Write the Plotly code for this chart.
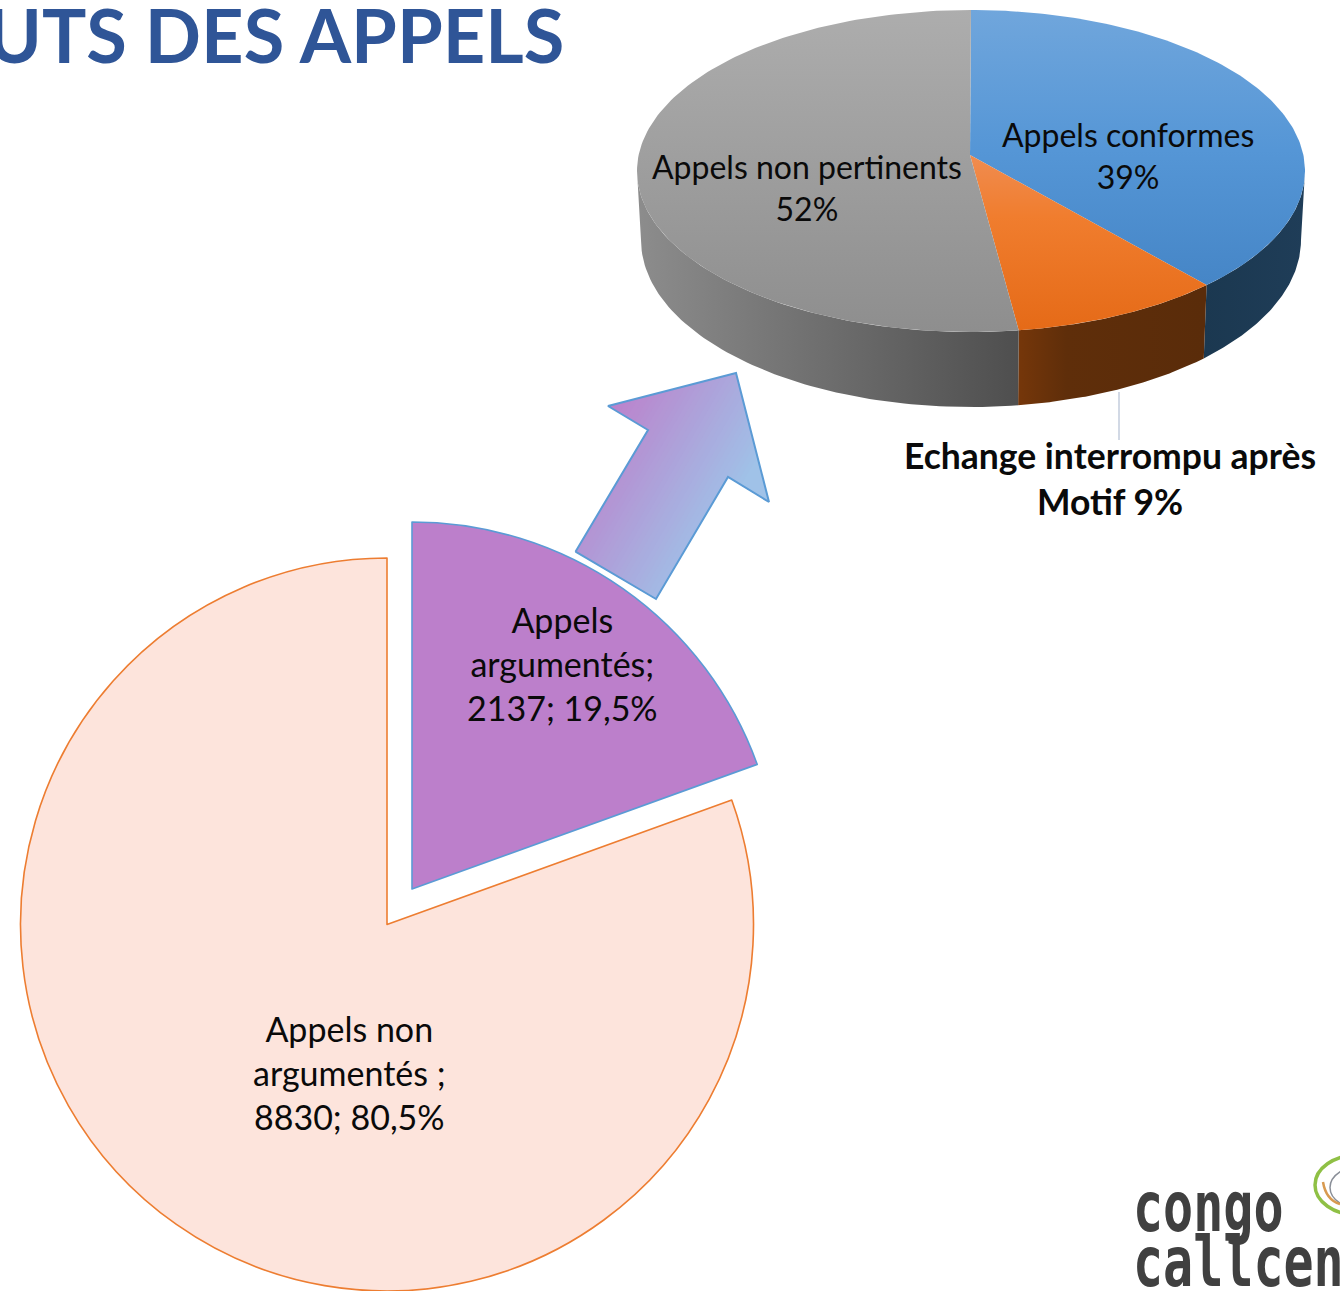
import numpy as np
import plotly.graph_objects as go

# --- Data -----------------------------------------------------------------
main_labels = ["Appels argumentés", "Appels non argumentés"]
main_values = [2137, 8830]
detail_labels = ["Appels conformes", "Echange interrompu après Motif", "Appels non pertinents"]
detail_values = [39, 9, 52]

W, H = 1340, 1291
PURPLE, SALMON, ORANGE_LINE, BLUE_LINE = "#BC7FCB", "#FDE4DC", "#ED7D31", "#5B9BD5"


def domain(x0, x1, y0, y1):
    return dict(x=[x0 / W, x1 / W], y=[(H - y1) / H, (H - y0) / H])


fig = go.Figure()

# --- Tilted disc (top ellipse + wall) driven by detail_values ---------------
CX, CY, RX, RY = 971.0, 171.0, 334.0, 161.0     # top face
BCX, BCY, BRX, BRY = 971.0, 240.0, 330.0, 167.0  # bottom rim
AX, AY, K = 970.0, 155.0, 0.455                  # apex seen in perspective


def edge_theta(share_angle):
    dx, dy = np.sin(share_angle), -np.cos(share_angle) * K
    ox, oy = (AX - CX) / RX, (AY - CY) / RY
    ux, uy = dx / RX, dy / RY
    a, b, c = ux**2 + uy**2, 2 * (ox * ux + oy * uy), ox**2 + oy**2 - 1
    t = (-b + np.sqrt(b**2 - 4 * a * c)) / (2 * a)
    th = np.arctan2(ox + t * ux, -(oy + t * uy))
    return th % (2 * np.pi)


def top(th):
    return CX + RX * np.sin(th), CY - RY * np.cos(th)


def bot(th):
    return BCX + BRX * np.sin(th), BCY - BRY * np.cos(th)


shares = np.cumsum([0] + detail_values) / sum(detail_values) * 2 * np.pi
thetas = [0.0, edge_theta(shares[1]), edge_theta(shares[2]), 2 * np.pi]

top_fill = [
    ([[0, "#70A6DC"], [0.5, "#5596D6"], [1, "#4585C6"]], 10, 290),
    ([[0, "#F08C50"], [0.35, "#F07D2E"], [1, "#E56A17"]], 155, 332),
    ([[0, "#ADADAD"], [1, "#8E8E8E"]], 10, 332),
]
wall_fill = [
    ([[0, "#1B3850"], [1, "#1F3D58"]], 1203, 1305),
    ([[0, "#74360A"], [0.25, "#5F2E0A"], [1, "#5A2C0A"]], 1021, 1203),
    ([[0, "#8C8C8C"], [1, "#4E4E4E"]], 640, 1021),
]
wall_span = [
    (np.pi / 2, thetas[1]),
    (thetas[1], thetas[2]),
    (thetas[2], 3 * np.pi / 2),
]

for (t0, t1), (scale, s0, s1) in zip(wall_span, wall_fill):
    th = np.linspace(t0, t1, 80)
    xa, ya = top(th)
    xb, yb = bot(th[::-1])
    fig.add_trace(go.Scatter(
        x=np.r_[xa, xb, xa[0]], y=np.r_[ya, yb, ya[0]], mode="lines",
        line=dict(width=0), fill="toself", hoverinfo="skip", showlegend=False,
        fillgradient=dict(type="horizontal", start=s0, stop=s1, colorscale=scale),
    ))

for i, (scale, s0, s1) in enumerate(top_fill):
    th = np.linspace(thetas[i], thetas[i + 1], 160)
    xa, ya = top(th)
    fig.add_trace(go.Scatter(
        x=np.r_[AX, xa, AX], y=np.r_[AY, ya, AY], mode="lines",
        line=dict(width=0), fill="toself", name=detail_labels[i],
        hoverinfo="name", showlegend=False,
        fillgradient=dict(type="vertical", start=s0, stop=s1, colorscale=scale),
    ))

# --- Decorative arrow with a diagonal gradient, and leader line --------------
arrow_x = [575.5, 656, 728, 769, 736, 608, 648, 575.5]
arrow_y = [551.7, 599, 477, 502, 373, 406, 430, 551.7]


def clip_from(points, nx, ny, level):
    """Keep the part of a polygon where nx*x + ny*y >= level."""
    out = []
    for (x0, y0), (x1, y1) in zip(points, points[1:] + points[:1]):
        d0, d1 = nx * x0 + ny * y0 - level, nx * x1 + ny * y1 - level
        if d0 >= 0:
            out.append((x0, y0))
        if (d0 >= 0) != (d1 >= 0):
            t = d0 / (d0 - d1)
            out.append((x0 + t * (x1 - x0), y0 + t * (y1 - y0)))
    return out


c0, c1 = np.array([0xBC, 0x82, 0xCC]), np.array([0xA0, 0xC2, 0xE8])
bands = np.linspace(726, 880, 36)
arrow_points = list(zip(arrow_x[:-1], arrow_y[:-1]))
for j, level in enumerate(bands):
    part = clip_from(arrow_points, 0.86, 0.5, level if j else 0)
    if not part:
        continue
    col = c0 + (c1 - c0) * j / (len(bands) - 1)
    px, py = zip(*part)
    fig.add_trace(go.Scatter(
        x=list(px) + [px[0]], y=list(py) + [py[0]], mode="lines", line=dict(width=0),
        fill="toself", fillcolor="rgb(%d,%d,%d)" % tuple(col),
        hoverinfo="skip", showlegend=False,
    ))
fig.add_trace(go.Scatter(
    x=arrow_x, y=arrow_y, mode="lines", line=dict(color=BLUE_LINE, width=2),
    hoverinfo="skip", showlegend=False,
))
fig.add_trace(go.Scatter(
    x=[1119, 1119], y=[392, 440], mode="lines",
    line=dict(color="#B4C0D4", width=1.2), hoverinfo="skip", showlegend=False,
))

# --- Exploded pie: two pies share the values, each shows one slice ----------
fig.add_trace(go.Pie(
    labels=main_labels, values=main_values, sort=False, direction="clockwise",
    rotation=0, textinfo="none", showlegend=False,
    domain=domain(19, 755, 558, 1291),
    marker=dict(colors=["rgba(0,0,0,0)", SALMON],
                line=dict(color=["rgba(0,0,0,0)", ORANGE_LINE], width=[0, 1.6])),
))
fig.add_trace(go.Pie(
    labels=main_labels, values=main_values, sort=False, direction="clockwise",
    rotation=0, textinfo="none", showlegend=False,
    domain=domain(45, 779, 522, 1256),
    marker=dict(colors=[PURPLE, "rgba(0,0,0,0)"],
                line=dict(color=[BLUE_LINE, "rgba(0,0,0,0)"], width=[1.6, 0])),
))

# --- Text --------------------------------------------------------------------
BLACK = "#0A0A0A"


def label(x, y, text, size, color=BLACK, bold=False, family="Lato", xanchor="center", yanchor="middle"):
    fig.add_annotation(
        x=x, y=y, xref="x", yref="y", text=f"<b>{text}</b>" if bold else text,
        showarrow=False, xanchor=xanchor, yanchor=yanchor, align="center",
        font=dict(family=family, size=size, color=color),
    )


label(566, 34, "UTS DES APPELS", 74, color="#2F5597", bold=True, xanchor="right")
label(562, 663, "Appels<br>argumentés;<br>2137; 19,5%", 34)
label(349, 1072, "Appels non<br>argumentés ;<br>8830; 80,5%", 34)
label(1128, 155, "Appels conformes<br>39%", 32)
label(807, 187, "Appels non pertinents<br>52%", 32)
label(1110, 478, "Echange interrompu après<br>Motif 9%", 35.5, bold=True)

# --- Logo fragment ----------------------------------------------------------
LOGO_FONT = "DejaVu Sans Mono"
label(1131, 1207, "congo", 50, color="#404040", bold=True, family=LOGO_FONT, xanchor="left")
label(1131, 1262, "callcent", 50, color="#404040", bold=True, family=LOGO_FONT, xanchor="left")

fig.update_layout(
    width=W, height=H, margin=dict(l=0, r=0, t=0, b=0),
    paper_bgcolor="white", plot_bgcolor="white", showlegend=False,
    xaxis=dict(range=[0, W], visible=False, fixedrange=True),
    yaxis=dict(range=[H, 0], visible=False, fixedrange=True),
    shapes=[
        dict(type="circle", xref="x", yref="y", x0=1315, x1=1400, y0=1155, y1=1215,
             line=dict(color="#8FC045", width=3.5)),
        dict(type="circle", xref="x", yref="y", x0=1330, x1=1400, y0=1165, y1=1210,
             line=dict(color="#8A8F98", width=1.5)),
        dict(type="path", xref="x", yref="y", path="M 1323,1182 Q 1326,1200 1340,1204",
             line=dict(color="#D89A50", width=2.5)),
    ],
)

# The logo lettering is tall and narrow: stretch its two words vertically.
post = """
document.body.style.margin='0';document.body.style.overflow='hidden';
document.querySelectorAll('.annotation-text').forEach(function(t){
  if(t.textContent==='congo'||t.textContent==='callcent'){
    t.style.transformBox='fill-box';t.style.transformOrigin='center';
    t.style.transform='scaleY(1.4)';
  }
});
"""
fig.write_html("out.html", config={"displayModeBar": False}, post_script=post)
